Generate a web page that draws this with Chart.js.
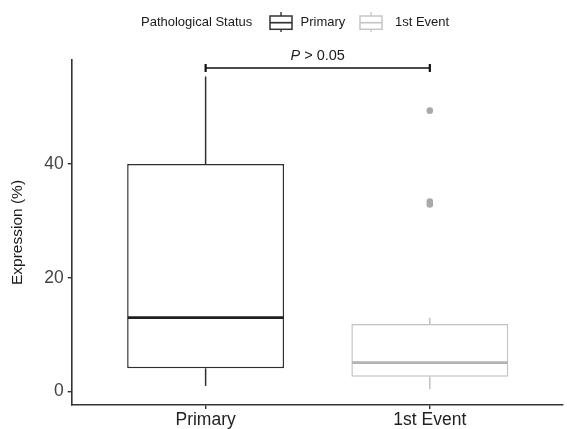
<!DOCTYPE html>
<html>
<head>
<meta charset="utf-8">
<script src="https://cdn.jsdelivr.net/npm/chart.js@4/dist/chart.umd.min.js"></script>
<style>
  html, body { margin: 0; padding: 0; background: #fff; overflow: hidden; }
  #wrap { position: relative; width: 567px; height: 429px; }
  #chart { position: absolute; left: 0; top: 0; }
  .lg { position: absolute; font: 13px "Liberation Sans", Arial, sans-serif; color: #1a1a1a; white-space: nowrap; line-height: 20px; top: 12px; }
  .lg svg { display: block; }
</style>
</head>
<body>
<div id="wrap">
  <canvas id="chart" width="567" height="429"></canvas>
  <div class="lg" style="left:141px">Pathological Status</div>
  <div class="lg" style="left:269px">
    <svg width="24" height="20" viewBox="0 0 24 20">
      <line x1="12" y1="0" x2="12" y2="20" stroke="#333" stroke-width="1.4"/>
      <rect x="1" y="4" width="22" height="13.3" fill="#fff" stroke="#333" stroke-width="1.5"/>
      <line x1="1" y1="10.7" x2="23" y2="10.7" stroke="#333" stroke-width="1.7"/>
    </svg>
  </div>
  <div class="lg" style="left:300.5px">Primary</div>
  <div class="lg" style="left:359px">
    <svg width="24" height="20" viewBox="0 0 24 20">
      <line x1="12" y1="0" x2="12" y2="20" stroke="#c6c6c6" stroke-width="1.4"/>
      <rect x="1" y="4" width="22" height="13.3" fill="#fff" stroke="#c6c6c6" stroke-width="1.5"/>
      <line x1="1" y1="10.7" x2="23" y2="10.7" stroke="#c6c6c6" stroke-width="1.7"/>
    </svg>
  </div>
  <div class="lg" style="left:395px">1st Event</div>
</div>
<script>
// Box-plot summary per group
const categories   = ['Primary', '1st Event'];
const whiskerLow   = [1.0, 0.4];
const q1           = [4.1, 2.6];
const median       = [13.0, 5.1];
const q3           = [40.0, 11.9];
const whiskerHigh  = [55.4, 13.0];
const outliers     = [[], [49.4, 33.4, 32.9]];
const yTicks       = [0, 20, 40];
const pLabelItalic = 'P';
const pLabelRest   = ' > 0.05';
const bracketValue = 56.9;

const strokeColors = ['#2f2f2f', '#c2c2c2'];
const medianColors = ['#1f1f1f', '#b3b3b3'];

Chart.defaults.font.family = '"Liberation Sans", Arial, sans-serif';

const boxData = categories.map((c, i) => ({ x: i + 1, y: [q1[i], q3[i]] }));
const outlierData = [];
outliers.forEach((vals, i) => vals.forEach(v => outlierData.push({ x: i + 1, y: v })));

// whiskers, medians and significance bracket
const boxParts = {
  id: 'boxParts',
  afterDatasetsDraw(chart) {
    const ctx = chart.ctx;
    const xs = chart.scales.x, ys = chart.scales.y;
    const bars = chart.getDatasetMeta(0).data;
    const seg = (x1, y1, x2, y2) => { ctx.beginPath(); ctx.moveTo(x1, y1); ctx.lineTo(x2, y2); ctx.stroke(); };
    ctx.save();
    categories.forEach((c, i) => {
      const cx = xs.getPixelForValue(i + 1);
      const half = bars[i].width / 2;
      ctx.strokeStyle = strokeColors[i];
      ctx.lineWidth = 1.5;
      seg(cx, ys.getPixelForValue(q3[i]), cx, ys.getPixelForValue(whiskerHigh[i]));
      seg(cx, ys.getPixelForValue(q1[i]), cx, ys.getPixelForValue(whiskerLow[i]));
      ctx.strokeStyle = medianColors[i];
      ctx.lineWidth = 2.8;
      const ym = ys.getPixelForValue(median[i]);
      seg(cx - half + 0.7, ym, cx + half - 0.7, ym);
    });

    // significance bracket between the two groups
    const bx1 = xs.getPixelForValue(1), bx2 = xs.getPixelForValue(2);
    const by = ys.getPixelForValue(bracketValue);
    ctx.strokeStyle = '#111';
    ctx.lineWidth = 1.6;
    seg(bx1, by, bx2, by);
    ctx.lineWidth = 2.2;
    seg(bx1, by - 4, bx1, by + 4);
    seg(bx2, by - 4, bx2, by + 4);

    ctx.fillStyle = '#1a1a1a';
    ctx.textBaseline = 'alphabetic';
    const fam = Chart.defaults.font.family;
    ctx.font = 'italic 14.5px ' + fam;
    const w1 = ctx.measureText(pLabelItalic).width;
    ctx.font = '14.5px ' + fam;
    const w2 = ctx.measureText(pLabelRest).width;
    const tx = (bx1 + bx2) / 2 - (w1 + w2) / 2;
    const ty = by - 7.6;
    ctx.font = 'italic 14.5px ' + fam;
    ctx.fillText(pLabelItalic, tx, ty);
    ctx.font = '14.5px ' + fam;
    ctx.fillText(pLabelRest, tx + w1, ty);
    ctx.restore();
  }
};

new Chart(document.getElementById('chart'), {
  type: 'bar',
  data: {
    datasets: [
      {
        type: 'bar',
        data: boxData,
        backgroundColor: '#ffffff',
        borderColor: strokeColors,
        borderWidth: 1.5,
        borderSkipped: false,
        categoryPercentage: 1,
        barPercentage: 0.7,
        order: 2
      },
      {
        type: 'scatter',
        data: outlierData,
        pointRadius: 3.3,
        pointBackgroundColor: '#a9a9a9',
        pointBorderWidth: 0,
        order: 1
      }
    ]
  },
  options: {
    responsive: false,
    animation: false,
    devicePixelRatio: 1,
    events: [],
    layout: { padding: { top: 60, left: 0, right: 0, bottom: 0 } },
    plugins: { legend: { display: false }, tooltip: { enabled: false } },
    scales: {
      x: {
        type: 'linear',
        min: 0.4027,
        max: 2.594,
        offset: false,
        afterBuildTicks: s => { s.ticks = categories.map((c, i) => ({ value: i + 1 })); },
        afterFit: s => { s.height = 24; },
        grid: { display: true, drawOnChartArea: false, drawTicks: true, tickLength: 4, color: '#333', lineWidth: 1.4, offset: false },
        border: { display: true, color: '#333', width: 1.6 },
        ticks: {
          callback: v => categories[v - 1],
          font: { size: 17.5 },
          color: '#222',
          padding: 1,
          maxRotation: 0,
          autoSkip: false
        }
      },
      y: {
        type: 'linear',
        min: -2.35,
        max: 58.3,
        afterBuildTicks: s => { s.ticks = yTicks.map(v => ({ value: v })); },
        afterFit: s => { s.width = 71.7; },
        grid: { display: true, drawOnChartArea: false, drawTicks: true, tickLength: 4, color: '#333', lineWidth: 1.4 },
        border: { display: true, color: '#333', width: 1.6 },
        ticks: { font: { size: 17.5 }, color: '#444', padding: 4 },
        title: {
          display: true,
          text: 'Expression (%)',
          font: { size: 15.5 },
          color: '#1a1a1a',
          padding: { top: 8.5, bottom: 0 }
        }
      }
    }
  },
  plugins: [boxParts]
});
</script>
</body>
</html>
